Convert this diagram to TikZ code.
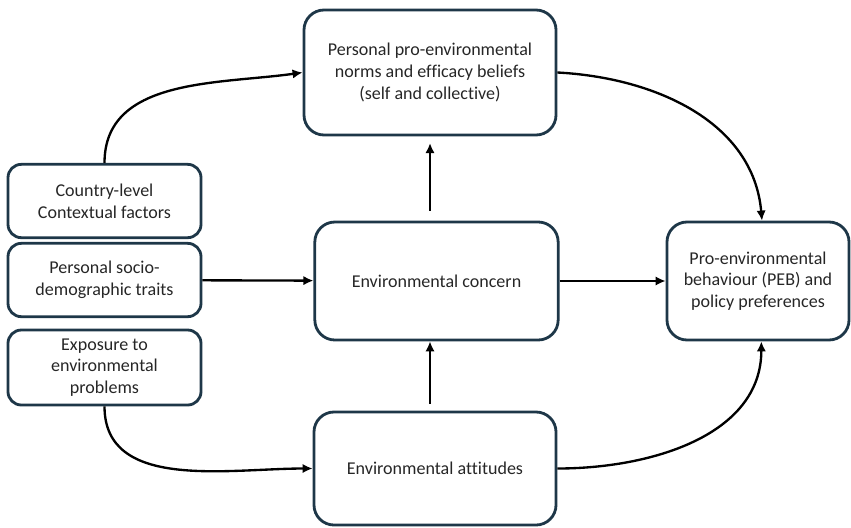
\documentclass[tikz,border=0pt]{standalone}
\usepackage{fontspec}
\setmainfont{Carlito}[Ligatures={NoCommon}]
\usetikzlibrary{arrows.meta}
\definecolor{boxline}{RGB}{30,55,72}
\tikzset{%
  >={Latex[width=2.8mm,length=3mm]},
  % Specifications for style of nodes:
            base/.style = {rectangle, draw=boxline, line width=2.4pt,
                           text centered, align=center, inner sep=0pt,
                           text=black!85,
                           font=\fontsize{15.4}{18.6}\selectfont},
          factor/.style = {base, rounded corners=4mm, %small boxes on the left
                           minimum width=5.79cm, minimum height=2.2cm},
       construct/.style = {base, rounded corners=6mm,
                           minimum width=7.3cm, minimum height=3.54cm},
         outcome/.style = {construct, minimum width=5.46cm},
            link/.style = {->, line width=2pt, black},
}

\begin{document}
\begin{tikzpicture}[x=0.03cm, y=-0.03cm]
  \useasboundingbox (0,0) rectangle (851,527);
  % Specification of nodes (position, etc.)
  \node (norms)     [construct, minimum width=7.56cm, minimum height=3.75cm]
                    at (430,72.5)   {Personal pro-environmental\\norms and efficacy beliefs\\(self and collective)};
  \node (country)   [factor]   at (104.5,201)   {Country-level\\Contextual factors};
  \node (socio)     [factor]   at (104.5,280)   {Personal socio-\\demographic traits};
  \node (exposure)  [factor, minimum height=2.25cm]
                    at (104.5,367.5) {Exposure to\\environmental\\problems};
  \node (concern)   [construct] at (436.5,281)  {Environmental concern};
  \node (attitudes) [construct, minimum width=7.26cm, minimum height=3.39cm]
                    at (435,468.5)  {Environmental attitudes};
  \node (peb)       [outcome]  at (758,281)     {Pro-environmental\\behaviour (PEB) and\\policy preferences};
  % Specification of lines between nodes specified above
  \draw[link]  (socio) -- (concern);
  \draw[link]  (concern) -- (peb);
  \draw[link, shorten <=0.3cm, shorten >=0.2cm]
               (concern.north -| norms.south) -- (norms.south);
  \draw[link, shorten <=0.2cm]
               (attitudes.north -| norms.south) -- (norms.south |- concern.south);
  \draw[link]  (country.north) to[out=90, in=188] (norms.west);
  \draw[link]  (norms.east) to[out=-3, in=95] ([xshift=0.12cm]peb.north);
  \draw[link]  (exposure.south) to[out=-90, in=180] (attitudes.west);
  \draw[link]  (attitudes.east) to[out=0, in=-90] ([xshift=0.1cm]peb.south);
\end{tikzpicture}
\end{document}
